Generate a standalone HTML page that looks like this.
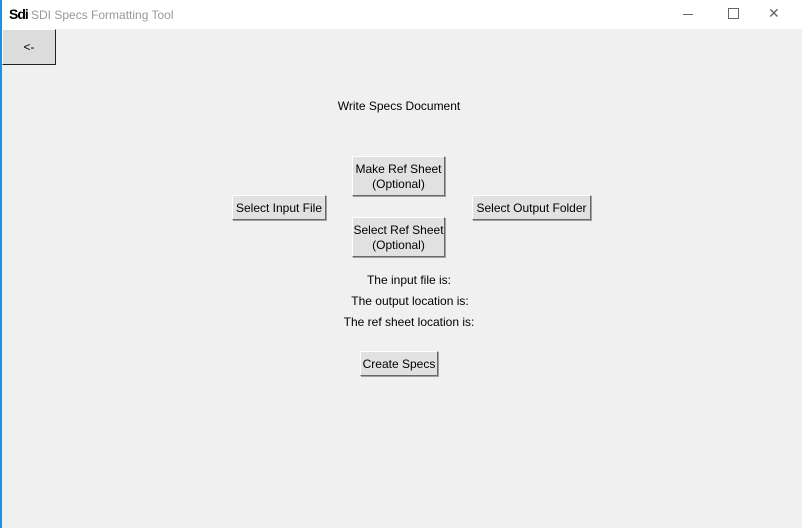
<!DOCTYPE html>
<html><head><style>
body{margin:0;width:802px;height:528px;background:#f0f0f0;position:relative;overflow:hidden;font-family:"Liberation Sans",sans-serif;font-size:12px;color:#000}
.tb{position:absolute;left:0;top:0;width:802px;height:29px;background:#fff}
.lb{position:absolute;left:0;top:0;width:2px;height:528px;background:#1e90e0}
.b{position:absolute;box-sizing:border-box;background:#e1e1e1;border:1px solid;border-color:#fff #696969 #696969 #fff;box-shadow:1px 1px 0 #a0a0a0;display:flex;align-items:center;justify-content:center;text-align:center;line-height:15px;padding-top:1px}
.t{position:absolute;white-space:nowrap;transform:translateX(-50%)}
</style></head><body>
<div class="tb"></div>
<div class="lb"></div>
<div style="position:absolute;left:9px;top:6px;font-weight:bold;font-size:14px;letter-spacing:-1px;font-family:'Liberation Sans Narrow','Liberation Sans',sans-serif">Sdi</div>
<div style="position:absolute;left:31px;top:8px;color:#999;font-size:12px">SDI Specs Formatting Tool</div>
<div style="position:absolute;left:683px;top:14px;width:10px;height:1px;background:#666"></div>
<div style="position:absolute;left:728px;top:8px;width:9px;height:9px;border:1px solid #666"></div>
<div style="position:absolute;left:768px;top:5px;font-size:14px;color:#666;font-weight:lighter">✕</div>
<div class="b" style="left:2px;top:29px;width:54px;height:36px;background:#dcdcdc;border-color:#fff #222 #222 #fff;box-shadow:none">&lt;-</div>
<div class="t" style="left:399px;top:99px">Write Specs Document</div>
<div class="b" style="left:352px;top:156px;width:93px;height:40px">Make Ref Sheet<br>(Optional)</div>
<div class="b" style="left:232px;top:195px;width:94px;height:25px">Select Input File</div>
<div class="b" style="left:472px;top:195px;width:119px;height:25px">Select Output Folder</div>
<div class="b" style="left:352px;top:217px;width:93px;height:40px">Select Ref Sheet<br>(Optional)</div>
<div class="t" style="left:409px;top:273px">The input file is:</div>
<div class="t" style="left:410px;top:294px">The output location is:</div>
<div class="t" style="left:409px;top:315px">The ref sheet location is:</div>
<div class="b" style="left:360px;top:351px;width:78px;height:25px">Create Specs</div>
</body></html>
